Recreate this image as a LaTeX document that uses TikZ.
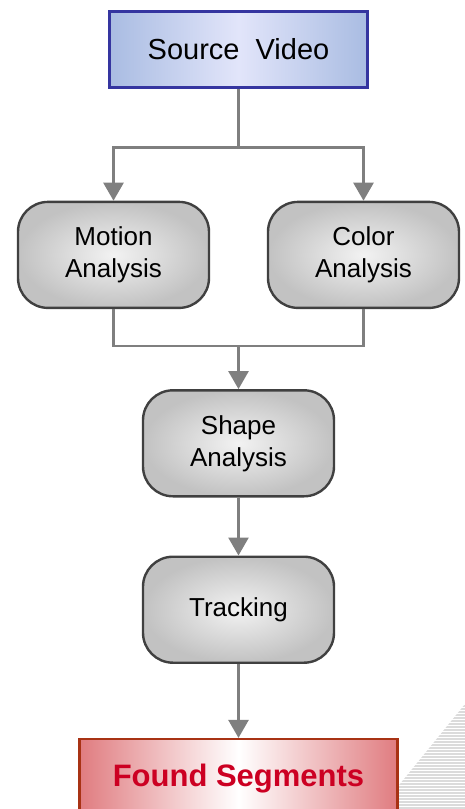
\documentclass[tikz,border=0pt]{standalone}
\usepackage{fontspec}
\setmainfont{Liberation Sans}
\usepackage{tikz}
\usetikzlibrary{positioning}
\usetikzlibrary{calc}
\usetikzlibrary{arrows.meta}
\usetikzlibrary{shadings}

\definecolor{flowgray}{HTML}{7F7F7F}
\definecolor{srcblue}{HTML}{A9BCE2}
\definecolor{srclight}{HTML}{E2E5FA}
\definecolor{srcedge}{HTML}{3535A0}
\definecolor{outred}{HTML}{E07C80}
\definecolor{outedge}{HTML}{A83214}
\definecolor{outtext}{HTML}{CC0022}

\tikzset{
  flow/.style={draw=flowgray, line width=2.6pt, -{Triangle[width=20pt,length=18pt]}},
  link/.style={draw=flowgray, line width=2.6pt},
  procbox/.style={draw=black!75, line width=2.4pt, rounded corners=30pt,
    inner color=black!5, outer color=black!24, minimum width=191pt,
    minimum height=106pt, align=center, font=\fontsize{26}{32}\selectfont},
}

\begin{document}
\begin{tikzpicture}[x=1pt, y=1pt]
    \useasboundingbox (0,0) rectangle (465,-809);

    % faint background stripes
    \begin{scope}
        \clip (465,-704) -- (395,-790) -- (385,-809) -- (465,-809) -- cycle;
        \foreach \k in {0,...,36} {
            \draw[black!14, line width=1.2pt] (380,-706-\k*3) -- (465,-706-\k*3);
        }
    \end{scope}

    \node[draw=srcedge, line width=2.4pt, minimum width=258pt, minimum height=76pt,
        left color=srcblue, right color=srcblue, middle color=srclight,
        font=\fontsize{29}{34}\selectfont] (src) at (238.5,-49.5) {Source\ \ Video};

    \node[procbox, below=112pt of src.south, xshift=-125pt] (motion) {Motion\\Analysis};
    \node[procbox, below=112pt of src.south, xshift=125pt] (color) {Color\\Analysis};

    \coordinate (split) at ($(src.south)+(0,-59)$);
    \coordinate (mid) at (motion.south -| src.south);
    \coordinate (join) at ($(mid)+(0,-37)$);

    \node[procbox, below=80pt of mid] (shape) {Shape\\Analysis};
    \node[procbox, below=58pt of shape] (track) {Tracking};

    \node[draw=outedge, line width=2.4pt, minimum width=318pt, minimum height=78pt,
        left color=outred, right color=outred, middle color=white,
        text=outtext, font=\fontsize{31}{36}\selectfont\bfseries,
        below=74pt of track] (found) {Found Segments};

    \draw[link] (src.south) -- (split);
    \draw[flow] (split) -| (motion.north);
    \draw[flow] (split) -| (color.north);
    \draw[link] (motion.south) |- (join);
    \draw[link] (color.south) |- (join);
    \draw[flow] (join) -- (shape.north);
    \draw[flow] (shape.south) -- (track.north);
    \draw[flow] (track.south) -- (found.north);
\end{tikzpicture}
\end{document}
